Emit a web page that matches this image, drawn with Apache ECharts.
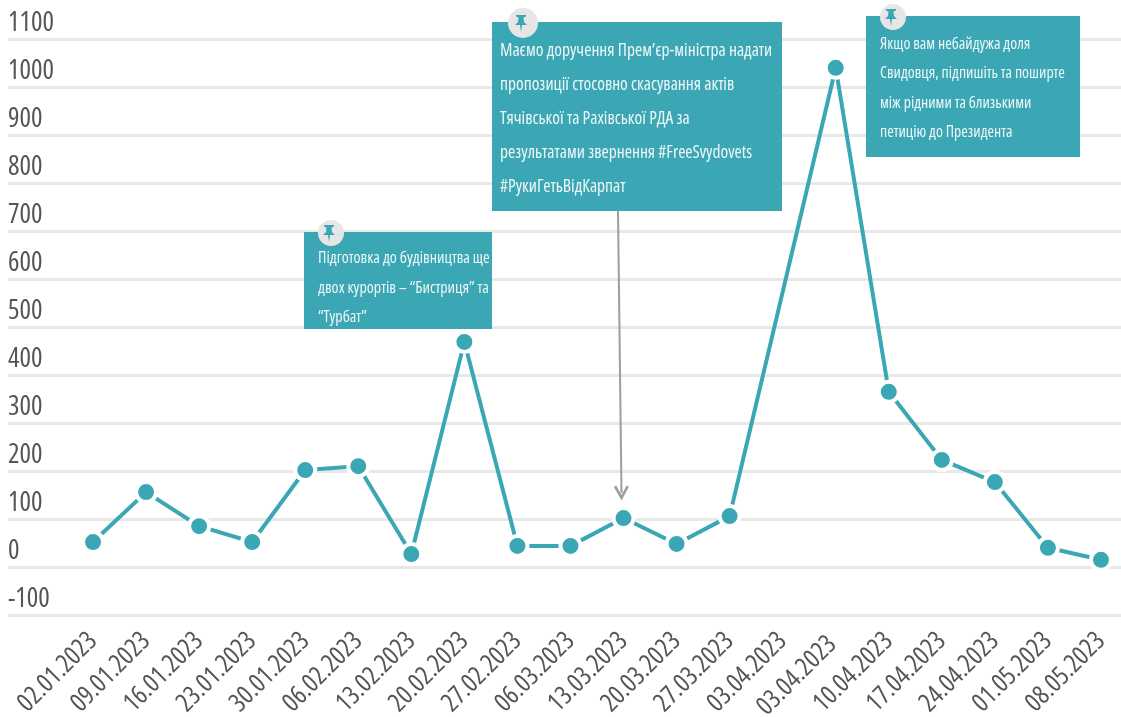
<!DOCTYPE html>
<html>
<head>
<meta charset="utf-8">
<style>
  html, body { margin: 0; padding: 0; background: #fff; }
  #chart { width: 1121px; height: 717px; }
</style>
<script src="https://cdn.jsdelivr.net/npm/echarts@6/dist/echarts.min.js"></script>
</head>
<body>
<div id="chart"></div>
<script>
const categories = ['02.01.2023', '09.01.2023', '16.01.2023', '23.01.2023', '30.01.2023', '06.02.2023', '13.02.2023', '20.02.2023', '27.02.2023', '06.03.2023', '13.03.2023', '20.03.2023', '27.03.2023', '03.04.2023', '03.04.2023 ', '10.04.2023', '17.04.2023', '24.04.2023', '01.05.2023', '08.05.2023'];
const values = [52, 156, 85, 52, 202, 210, 27, 469, 44, 44, 102, 48, 106, null, 1040, 365, 223, 177, 40, 15];

const note1 = ['Підготовка до будівництва ще', 'двох курортів – “Бистриця” та', '“Турбат”'];
const note2 = ['Маємо доручення Прем’єр-міністра надати', 'пропозиції стосовно скасування актів', 'Тячівської та Рахівської РДА за', 'результатами звернення #FreeSvydovets', '#РукиГетьВідКарпат'];
const note3 = ['Якщо вам небайдужа доля', 'Свидовця, підпишіть та поширте', 'між рідними та близькими', 'петицію до Президента'];

const FONT = '"Open Sans", sans-serif';
const TEAL = '#3ba7b5';
const PIN = [[-5, -8], [5, -8], [5, -6.5], [2.5, -5.5], [3, -1], [6, 2], [1, 2], [0, 9], [-1, 2], [-6, 2], [-3, -1], [-2.5, -5.5], [-5, -6.5]];

function note(lines, box, fontSize, lineHeight, textTop, pinX, pinY, pinR, textLeft) {
  return [
    { type: 'rect', shape: { x: box[0], y: box[1], width: box[2], height: box[3] }, style: { fill: TEAL }, z: 10 },
    { type: 'circle', shape: { cx: pinX, cy: pinY, r: pinR }, style: { fill: '#e6e6e6' }, z: 11 },
    { type: 'polygon', x: pinX - 2, y: pinY, shape: { points: PIN }, style: { fill: TEAL }, z: 12 },
    {
      type: 'text', x: textLeft, y: textTop, z: 12,
      style: { text: lines.join('\n'), fill: '#eef7f8', font: 'condensed ' + fontSize + 'px ' + FONT, lineHeight: lineHeight }
    }
  ];
}

const chart = echarts.init(document.getElementById('chart'));
chart.setOption({
  animation: false,
  grid: [
    { left: 8, right: 0, top: 39, height: 576, outerBoundsMode: 'none' },
    { left: 66.5, width: 1061, top: 39, height: 576, outerBoundsMode: 'none' }
  ],
  xAxis: [
    { gridIndex: 0, type: 'category', data: categories, show: false },
    {
      gridIndex: 1, type: 'category', data: categories,
      axisLine: { show: false }, axisTick: { show: false },
      axisLabel: { rotate: 45, interval: 0, fontStyle: 'condensed', fontFamily: FONT, fontSize: 26, color: '#555', margin: 22 }
    }
  ],
  yAxis: [
    {
      gridIndex: 0, type: 'value', min: -100, max: 1100, interval: 100,
      axisLine: { show: false }, axisTick: { show: false },
      axisLabel: {
        inside: true, margin: 0, fontStyle: 'condensed', fontFamily: FONT, fontSize: 27, color: '#555',
        verticalAlign: 'bottom', padding: [0, 0, 2, 0], formatter: (v) => String(v)
      },
      splitLine: { lineStyle: { color: '#e8e8e8', width: 3 } }
    },
    { gridIndex: 1, type: 'value', min: -100, max: 1100, interval: 100, show: false, splitLine: { show: false } }
  ],
  series: [{
    type: 'line',
    xAxisIndex: 1,
    yAxisIndex: 1,
    data: values,
    connectNulls: true,
    symbol: 'circle',
    symbolSize: 20,
    clip: false,
    lineStyle: { color: TEAL, width: 4 },
    itemStyle: { color: TEAL, borderColor: '#fff', borderWidth: 4 },
    markLine: {
      silent: true, symbol: ['none', 'path://M0,10 L5,0 L10,10 L8.5,11 L5,4 L1.5,11 Z'], symbolSize: 15,
      label: { show: false },
      lineStyle: { color: '#9e9e9e', width: 2, type: 'solid' },
      data: [[{ x: 618, y: 211 }, { x: 621.5, y: 493 }]]
    }
  }],
  graphic: [
    ...note(note1, [304, 232, 188, 97], 16, 29.5, 244, 331, 233, 13, 318),
    ...note(note2, [492, 22, 290, 189], 17.5, 34, 34, 523, 23, 15, 500),
    ...note(note3, [866, 16, 214, 141], 15.8, 29.3, 30, 893, 17, 13, 880)
  ]
});
</script>
</body>
</html>
